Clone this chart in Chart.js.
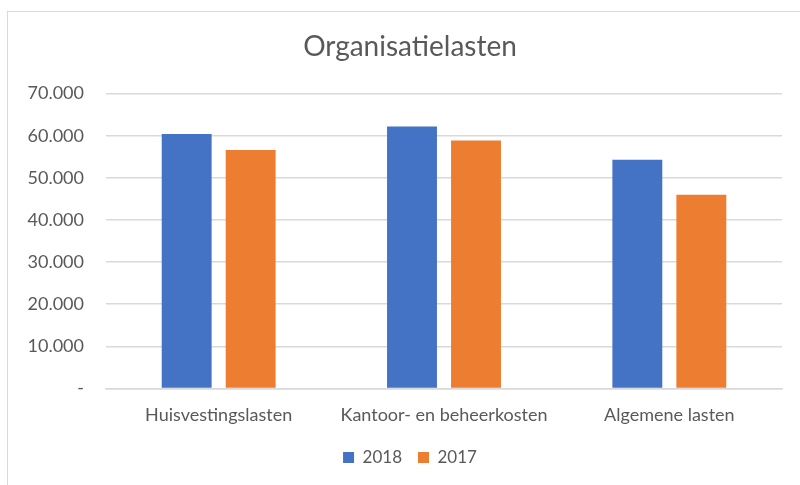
<!DOCTYPE html>
<html>
<head>
<meta charset="utf-8">
<script src="https://cdn.jsdelivr.net/npm/chart.js@4.4.1/dist/chart.umd.min.js"></script>
<style>
  html, body { margin: 0; padding: 0; background: #ffffff; overflow: hidden; }
  #wrap { position: relative; width: 800px; height: 485px; overflow: hidden; }
  #frame { position: absolute; left: 7px; top: 11px; width: 900px; height: 600px;
           border: 1.5px solid #d9d9d9; pointer-events: none; box-sizing: border-box; }
  canvas { position: absolute; left: 0; top: 0; }
</style>
</head>
<body>
<div id="wrap">
  <canvas id="c" width="820" height="485"></canvas>
  <div id="frame"></div>
</div>
<script>
const categories = ["Huisvestingslasten", "Kantoor- en beheerkosten", "Algemene lasten"];
const series2018 = [60400, 62200, 54300];
const series2017 = [56600, 58850, 46000];
const seriesLabels = ["2018", "2017"];
const yTicks = [0, 10000, 20000, 30000, 40000, 50000, 60000, 70000];

function fmt(v) {
  if (v === 0) return "-";
  return String(Math.round(v)).replace(/\B(?=(\d{3})+(?!\d))/g, ".");
}

const fontFam = "Lato, 'Open Sans', sans-serif";
const textColor = "#595959";

new Chart(document.getElementById("c"), {
  type: "bar",
  data: {
    labels: categories,
    datasets: [
      { label: seriesLabels[0], data: series2018, backgroundColor: "#4472C4",
        categoryPercentage: 0.568, barPercentage: 0.78 },
      { label: seriesLabels[1], data: series2017, backgroundColor: "#ED7D31",
        categoryPercentage: 0.568, barPercentage: 0.78 }
    ]
  },
  options: {
    responsive: false,
    animation: false,
    devicePixelRatio: 1,
    layout: { padding: { left: 0, right: 0, top: 0, bottom: 9 } },
    plugins: {
      title: {
        display: true, text: "Organisatielasten",
        color: textColor,
        font: { family: fontFam, size: 28, weight: "normal" },
        padding: { top: 30, bottom: 30 }
      },
      legend: {
        position: "bottom",
        labels: {
          color: textColor,
          font: { family: fontFam, size: 17 },
          boxWidth: 11, boxHeight: 11, padding: 16
        }
      },
      tooltip: { enabled: false }
    },
    scales: {
      x: {
        afterFit: (s) => { s.height -= 9; },
        grid: { display: false, drawTicks: false },
        border: { display: true, color: "#d9d9d9", width: 1.5 },
        ticks: { color: textColor, font: { family: fontFam, size: 18 }, padding: 16 }
      },
      y: {
        min: 0, max: 70000,
        afterFit: (s) => { s.width = 106; },
        afterBuildTicks: (s) => { s.ticks = yTicks.map(v => ({ value: v })); },
        grid: { color: "#d9d9d9", lineWidth: 1.5, drawTicks: false },
        border: { display: false },
        ticks: { color: textColor, font: { family: fontFam, size: 18 }, padding: 22,
                 callback: (v) => fmt(v) }
      },
      yRight: {
        position: "right",
        display: true,
        min: 0, max: 70000,
        afterFit: (s) => { s.width = 38; },
        grid: { display: false, drawTicks: false },
        border: { display: false },
        ticks: { display: false }
      }
    }
  }
});
</script>
</body>
</html>
